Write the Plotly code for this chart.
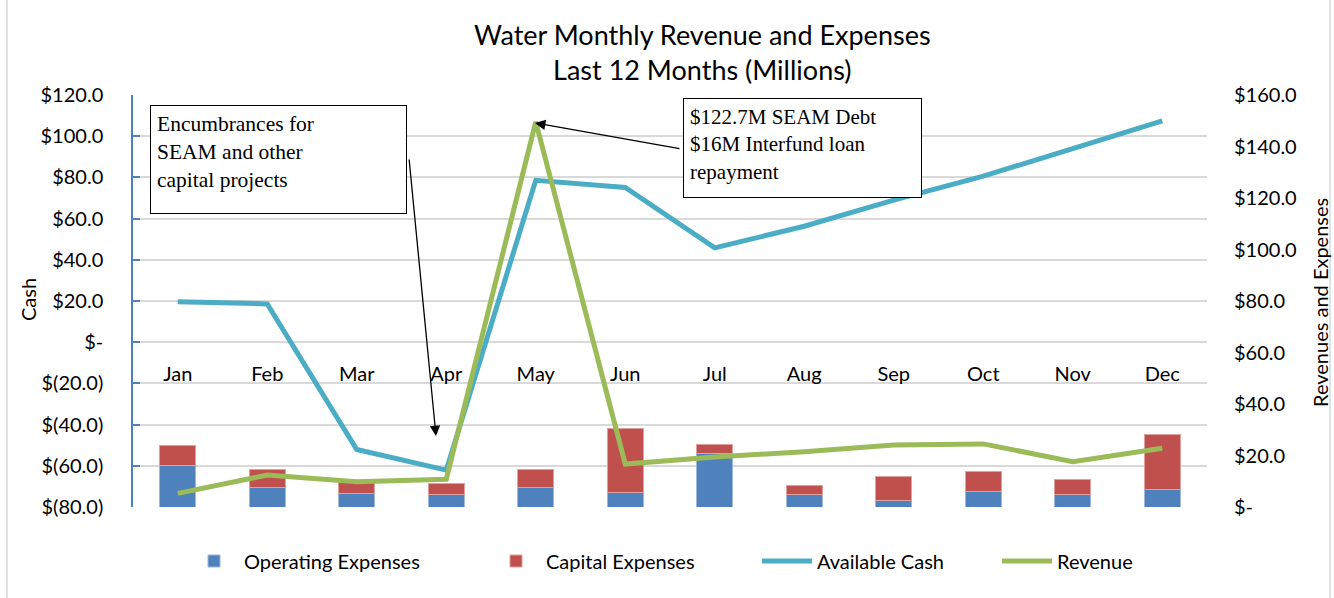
import plotly.graph_objects as go

months = ["Jan", "Feb", "Mar", "Apr", "May", "Jun", "Jul", "Aug", "Sep", "Oct", "Nov", "Dec"]
operating_expenses = [16.0, 7.7, 5.3, 4.8, 7.5, 5.7, 20.8, 4.8, 2.6, 5.9, 4.8, 6.9]
capital_expenses = [8.0, 6.7, 4.7, 4.4, 6.9, 24.6, 3.3, 3.4, 9.1, 7.7, 6.0, 21.1]
available_cash = [19.6, 18.6, -52.1, -62.1, 78.6, 75.1, 45.8, 56.3, 69.0, 80.6, 94.0, 107.4]
revenue = [5.3, 12.4, 9.8, 10.8, 149.6, 16.7, 19.4, 21.5, 24.1, 24.5, 17.6, 22.8]

left_ticks = [-80, -60, -40, -20, 0, 20, 40, 60, 80, 100, 120]
left_labels = ["$(80.0)", "$(60.0)", "$(40.0)", "$(20.0)", "$-", "$20.0", "$40.0",
               "$60.0", "$80.0", "$100.0", "$120.0"]
right_ticks = [0, 20, 40, 60, 80, 100, 120, 140, 160]
right_labels = ["$-", "$20.0", "$40.0", "$60.0", "$80.0", "$100.0", "$120.0", "$140.0", "$160.0"]

FONT = "Lato"
BLUE = "#4F81BD"
RED = "#C0504D"
CYAN = "#4BACC6"
GREEN = "#9BBB59"

# plot-area geometry (px) used for converting decoration positions
L, R, T, B = 133, 1207, 95, 507
W, H = 1334, 598
def px(x):
    return (x - L) / (R - L)
def py(y):
    return (B - y) / (B - T)

fig = go.Figure()
fig.add_trace(go.Bar(x=months, y=operating_expenses, name="Operating Expenses",
                     marker=dict(color=BLUE, line=dict(color="#9DB7DD", width=1)), yaxis="y2",
                     legend="legend"))
fig.add_trace(go.Bar(x=months, y=capital_expenses, name="Capital Expenses",
                     marker=dict(color=RED, line=dict(color="#E0A09E", width=1)), yaxis="y2",
                     legend="legend2"))
fig.add_trace(go.Scatter(x=months, y=available_cash, name="Available Cash", mode="lines",
                         line=dict(color=CYAN, width=5), yaxis="y", legend="legend3"))
fig.add_trace(go.Scatter(x=months, y=revenue, name="Revenue", mode="lines",
                         line=dict(color=GREEN, width=5), yaxis="y2", legend="legend4"))

annotations = [
    dict(text="Water Monthly Revenue and Expenses<br>Last 12 Months (Millions)",
         xref="paper", yref="paper", x=px(702), y=py(52), xanchor="center", yanchor="middle",
         showarrow=False, font=dict(family=FONT, size=27, color="#000000")),
    dict(text="Encumbrances for<br>SEAM and other<br>capital projects",
         xref="paper", yref="paper", x=px(278.5), y=py(159.5), xanchor="center", yanchor="middle",
         showarrow=False, align="left", valign="top", width=243, height=95, borderpad=6,
         bordercolor="#000000", borderwidth=1, bgcolor="#FFFFFF",
         font=dict(family="Liberation Serif", size=21.5, color="#000000")),
    dict(text="$122.7M SEAM Debt<br>$16M Interfund loan<br>repayment",
         xref="paper", yref="paper", x=px(802.5), y=py(148), xanchor="center", yanchor="middle",
         showarrow=False, align="left", valign="top", width=225, height=86, borderpad=6,
         bordercolor="#000000", borderwidth=1, bgcolor="#FFFFFF",
         font=dict(family="Liberation Serif", size=21, color="#000000")),
    dict(text="", xref="paper", yref="paper", x=px(436), y=py(436),
         axref="pixel", ayref="pixel", ax=409 - 436, ay=158 - 436,
         showarrow=True, arrowhead=2, arrowsize=1.6, arrowwidth=1.3, arrowcolor="#000000", standoff=0),
    dict(text="", xref="paper", yref="paper", x=px(535), y=py(123),
         axref="pixel", ayref="pixel", ax=681 - 535, ay=149 - 123,
         showarrow=True, arrowhead=2, arrowsize=1.6, arrowwidth=1.3, arrowcolor="#000000", standoff=0),
    dict(text="Cash", xref="paper", yref="paper", x=px(28), y=py(300), textangle=-90,
         xanchor="center", yanchor="middle", showarrow=False,
         font=dict(family=FONT, size=20, color="#000000")),
    dict(text="Revenues and Expenses", xref="paper", yref="paper", x=px(1320), y=py(303), textangle=-90,
         xanchor="center", yanchor="middle", showarrow=False,
         font=dict(family=FONT, size=20, color="#000000")),
]

shapes = [
    dict(type="line", xref="paper", yref="paper", x0=px(7), x1=px(7), y0=py(0), y1=py(598),
         line=dict(color="#D9D9D9", width=1.5)),
    dict(type="line", xref="paper", yref="paper", x0=px(1330), x1=px(1330), y0=py(0), y1=py(598),
         line=dict(color="#D9D9D9", width=1.5)),
]

def leg(xpix):
    return dict(orientation="h", x=px(xpix), xanchor="left", y=py(561), yanchor="middle",
                font=dict(family=FONT, size=20, color="#000000"), itemwidth=50,
                bgcolor="rgba(0,0,0,0)")

fig.update_layout(
    width=W, height=H,
    margin=dict(l=L, r=W - R, t=T, b=H - B),
    paper_bgcolor="#FFFFFF", plot_bgcolor="#FFFFFF",
    barmode="stack", bargap=0.6,
    font=dict(family=FONT, size=18, color="#000000"),
    showlegend=True,
    legend=leg(184), legend2=leg(486), legend3=leg(757), legend4=leg(997),
    xaxis=dict(type="category", anchor="free", position=0.4, showgrid=False,
               showline=False, ticks="", ticklabelstandoff=18,
               tickfont=dict(family=FONT, size=20, color="#000000")),
    yaxis=dict(range=[-80, 120], tickvals=left_ticks, ticktext=left_labels,
               showgrid=True, gridcolor="#D9D9D9", gridwidth=1.5, zeroline=False,
               showline=True, linecolor=BLUE, linewidth=1.5,
               ticks="inside", ticklen=7, tickcolor=BLUE, tickwidth=1.5,
               ticklabelstandoff=24,
               tickfont=dict(family=FONT, size=20, color="#000000")),
    yaxis2=dict(range=[0, 160], tickvals=right_ticks, ticktext=right_labels,
                overlaying="y", side="right", showgrid=False, zeroline=False,
                showline=False, ticks="", ticklabelstandoff=26,
                tickfont=dict(family=FONT, size=20, color="#000000")),
    annotations=annotations,
    shapes=shapes,
)

fig.write_html("out.html", config={"displayModeBar": False},
               post_script="document.body.style.margin='0';")
